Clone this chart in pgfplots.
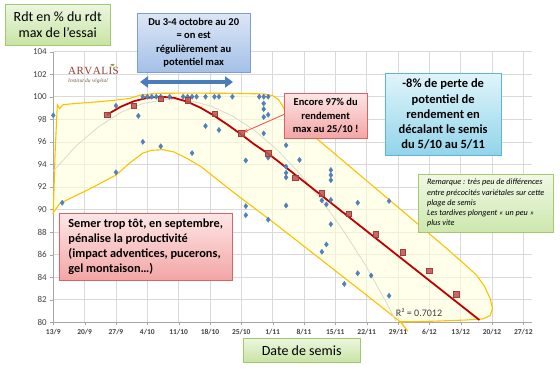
\documentclass[border=0pt]{standalone}
\usepackage{fontspec}
\setmainfont{Carlito}
\newfontfamily\logofont{Liberation Serif}
\usepackage{pgfplots}
\pgfplotsset{compat=1.18}
\usetikzlibrary{arrows.meta,shadows}
\definecolor{gridgray}{HTML}{D9D9D9}
\definecolor{axisgray}{HTML}{A6A6A6}
\definecolor{labelgray}{HTML}{404040}
\definecolor{bluept}{HTML}{4F81BD}
\definecolor{redsq}{HTML}{C0504D}
\definecolor{redline}{HTML}{C00000}
\definecolor{envline}{HTML}{FFC000}
\definecolor{envfill}{HTML}{FFFFDC}
\definecolor{trendgray}{HTML}{DADAD0}
\definecolor{arrowblue}{HTML}{4A7EBB}
\definecolor{arvred}{RGB}{150,60,45}
\definecolor{arvgreen}{RGB}{120,170,40}
\definecolor{arvsub}{RGB}{120,90,70}
\definecolor{arrred}{RGB}{255,70,70}
\definecolor{gtop}{RGB}{236,246,224}
\definecolor{gbot}{RGB}{200,228,164}
\definecolor{gdraw}{RGB}{160,200,110}
\definecolor{btop}{RGB}{220,230,245}
\definecolor{bbot}{RGB}{164,192,232}
\definecolor{bdraw}{RGB}{125,158,210}
\definecolor{ptop}{RGB}{253,230,230}
\definecolor{pbot}{RGB}{243,165,165}
\definecolor{pdraw}{RGB}{215,100,100}
\definecolor{ctop}{RGB}{224,245,251}
\definecolor{cbot}{RGB}{146,212,234}
\definecolor{cdraw}{RGB}{95,180,212}
\definecolor{ntop}{RGB}{240,248,228}
\definecolor{nbot}{RGB}{205,231,174}
\definecolor{ndraw}{RGB}{165,200,110}
\begin{document}
\begin{tikzpicture}[x=1pt,y=1pt]
\useasboundingbox (0,0) rectangle (560,-369);
\begin{axis}[
  at={(53.3pt,-322.3pt)}, anchor=south west,
  scale only axis, width=479pt, height=270.7pt,
  xmin=0, xmax=107, ymin=80, ymax=104,
  xtick={0,7,...,105},
  xticklabels={13/9,20/9,27/9,4/10,11/10,18/10,25/10,1/11,8/11,15/11,22/11,29/11,6/12,13/12,20/12,27/12},
  ytick={80,82,...,104},
  grid=major, major grid style={draw=gridgray, line width=0.6pt},
  axis lines*=left,
  axis line style={draw=axisgray, line width=0.8pt},
  tick align=outside, major tick length=3pt,
  tick style={draw=axisgray},
  /pgf/number format/assume math mode=true,
  y tick label style={font=\fontsize{9}{10}\selectfont, text=labelgray},
  x tick label style={font=\fontsize{7.5}{8}\selectfont\bfseries, text=labelgray},
  clip=false,
]
% envelope
\addplot[draw=envline, line width=1.1pt, fill=envfill, fill opacity=0.6] coordinates {
(0,89.7) (0.4,95) (0.9,99.3) (1.4,98.95) (2.2,99.3) (5,99.4) (10,99.55) (14,99.7) (17,99.85)
(19.5,100.15) (23,100.3) (30,100.32) (40,100.3) (47,100.25) (49,100.1) (50.3,99.75) (51.2,99.2)
(52,98.6) (60,95.9) (70,92.55) (80,89.2) (88,86.5) (92,85.1) (94.5,84.2) (96.3,83.2) (97.6,82.1)
(98.1,81.2) (97.6,80.6) (96,80.3) (92,80.2) (85,80.1) (80,80.05) (77.5,80.05) (79.2,79.2)
(77.8,79.95) (70,82.4) (60,85.5) (50,88.6) (40,91.6) (33,93.8) (30,94.5) (27,95.1) (24.5,95.3)
(22,95.25) (20,95) (17,94.1) (14,93.05) (8,91.8) (1.5,90.55) (0.5,90)
} -- cycle;
% polynomial trend
\addplot[draw=trendgray, line width=0.8pt] coordinates {
(0,93.4) (5,95.6) (10,97.3) (15,98.6) (20,99.4) (25,99.75) (30,99.7) (35,99.2) (40,98.3)
(45,97.0) (50,95.3) (55,93.2) (60,90.8) (65,88.0) (70,84.9) (75,81.3) (76.5,80.1)
};
% blue points
\addplot[only marks, mark=diamond*, mark size=2.6pt, color=bluept] coordinates {
(0,98.35) (2,90.6) (14,99.2) (14,93.3) (19,98.3) (20,96.0) (24,95.6) (31,95.0) (34,97.4)
(37,97.05) (43,94.35) (43,90.3) (43,89.5) (47,99.4) (47,98.9) (47,98.2) (48,98.4) (47,96.75)
(48,94.6) (48,89.1)
(20,100) (21,100) (22,100) (23,100) (24,100) (26,100) (29,100) (30,100) (31,100) (32,100)
(34,100) (36,100) (37,100) (40,100) (46,100) (47,100) (48,100)
(52,95.7) (55,94.4) (52,93.8) (52,93.25) (52,92.85) (62,93.5) (62,93.05) (62,92.6) (60,90.8)
(52,90.35) (61,90.45) (62,90.85) (68,90.6) (75,90.75) (62,88.7) (61,86.9) (60,86.25)
(68,84.35) (71,84.15) (65,83.4) (75,82.35)
};
% red fitted curve
\addplot[draw=redline, line width=1.8pt] coordinates {
(12,98.4) (15,99.1) (18,99.6) (21,99.9) (24,100.0) (27,99.9) (30,99.55) (33,99.0) (36,98.3)
(39,97.5) (42,96.65) (45,95.75) (48,94.95) (50,94.35) (95.2,80.2)
};
% red squares
\addplot[only marks, mark=square*, mark size=2.7pt, mark options={fill=redsq, draw=redsq!80!black, fill opacity=0.85}] coordinates {
(12,98.4) (18,99.2) (24,99.85) (30,99.7) (36,98.5) (42,96.75) (48,95.0) (54,92.8) (60,91.45)
(66,89.65) (72,87.8) (78,86.2) (84,84.6) (90,82.5)
};
\end{axis}
% R2 label
\node[font=\fontsize{10}{12}\selectfont, text=labelgray] at (419,-313) {R² = 0.7012};
% ARVALIS logo
\node[font=\logofont\fontsize{11}{12}\selectfont, text=arvred, anchor=west, inner sep=0pt] at (68,-71) {A\kern0.5pt R\kern0.5pt V\kern0.5pt A\kern0.5pt L\kern0.5pt I\kern0.5pt S};
\fill[arvgreen] (112.5,-64.8) ellipse (2pt and 1pt);
\node[font=\logofont\itshape\fontsize{5.5}{6}\selectfont, text=arvsub, anchor=west, inner sep=0pt] at (68,-81) {Institut du végétal};
% blue double arrow
\draw[arrowblue, line width=4pt, {Triangle[length=8pt,width=11pt]}-{Triangle[length=8pt,width=11pt]}] (140,-82) -- (233,-82);
% red arrow
\draw[arrred, line width=0.8pt, -{Stealth[length=5pt]}] (285,-114) -- (243,-132.5);
% boxes
\tikzset{bx/.style={anchor=north west, inner sep=2pt, drop shadow={opacity=0.25, shadow xshift=1.2pt, shadow yshift=-1.2pt}}}
\node[bx, top color=gtop, bottom color=gbot, draw=gdraw,
  minimum width=105pt, minimum height=41pt, align=center, font=\fontsize{14}{16.5}\selectfont] at (5,-4) {Rdt en \% du rdt\\max de l’essai};
\node[bx, top color=btop, bottom color=bbot, draw=bdraw,
  minimum width=113pt, minimum height=59pt, align=center, font=\bfseries\fontsize{10.5}{13.3}\selectfont] at (137,-13) {Du 3-4 octobre au 20\\= on est\\régulièrement au\\potentiel max};
\node[bx, top color=ptop, bottom color=pbot, draw=pdraw,
  minimum width=83pt, minimum height=45pt, align=center, font=\bfseries\fontsize{10.5}{13.3}\selectfont] at (284,-93) {Encore 97\% du\\rendement\\max au 25/10 !};
\node[bx, top color=ctop, bottom color=cbot, draw=cdraw,
  minimum width=116pt, minimum height=82pt, align=center, font=\bfseries\fontsize{12.5}{15.3}\selectfont] at (385,-73) {-8\% de perte de\\potentiel de\\rendement en\\décalant le semis\\du 5/10 au 5/11};
\node[bx, top color=ntop, bottom color=nbot, draw=ndraw,
  minimum width=135pt, minimum height=58pt, align=left, font=\itshape\fontsize{8.2}{10.3}\selectfont] at (418,-174) {Remarque : très peu de différences\\entre précocités variétales sur cette\\plage de semis\\Les tardives plongent « un peu »\\plus vite};
\node[bx, top color=ptop, bottom color=pbot, draw=pdraw,
  minimum width=173pt, minimum height=67pt, align=left, font=\bfseries\fontsize{12.3}{15.3}\selectfont] at (59,-213) {Semer trop tôt, en septembre,\\pénalise la productivité\\(impact adventices, pucerons,\\gel montaison…)};
\node[bx, top color=gtop, bottom color=gbot, draw=gdraw,
  minimum width=117pt, minimum height=24pt, align=center, font=\fontsize{14}{16}\selectfont] at (243,-338) {Date de semis};
\end{tikzpicture}
\end{document}
